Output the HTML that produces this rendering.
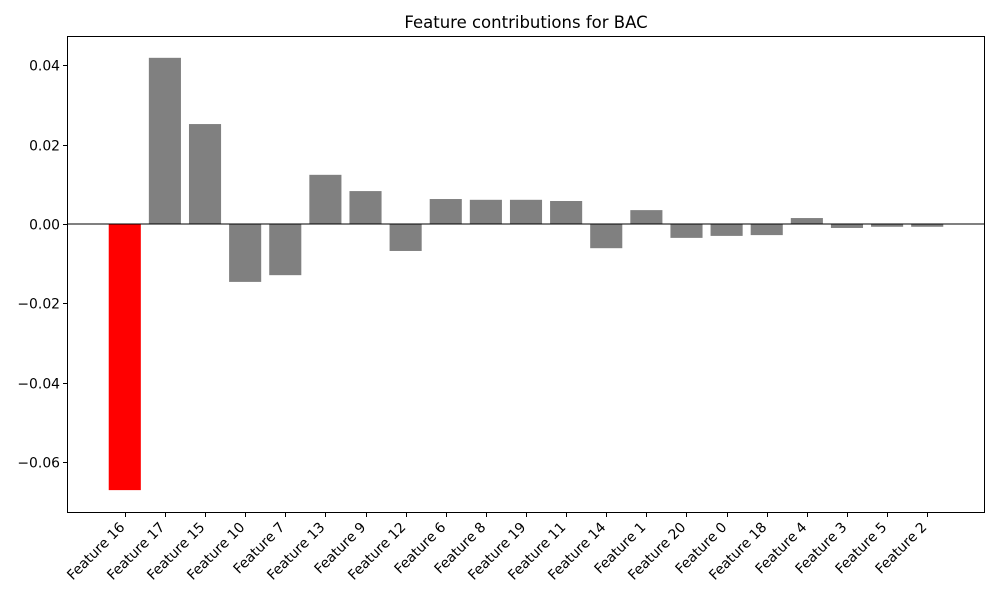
<!DOCTYPE html>
<html><head><meta charset="utf-8"><style>
body{margin:0;background:#fff;}
svg text{font-family:"DejaVu Sans","Liberation Sans",sans-serif;fill:#000;}
</style></head><body>
<svg id="chart" width="1000" height="600" xmlns="http://www.w3.org/2000/svg">
<text x="526" y="28" font-size="16.5" text-anchor="middle">Feature contributions for BAC</text>
<g id="bars"></g>
<g id="yaxis"></g>
<g id="xaxis"></g>
<rect x="67.5" y="36.5" width="917" height="476" fill="none" stroke="#000" stroke-width="1"/>
</svg>
<script>
const categories=["Feature 16","Feature 17","Feature 15","Feature 10","Feature 7","Feature 13","Feature 9","Feature 12","Feature 6","Feature 8","Feature 19","Feature 11","Feature 14","Feature 1","Feature 20","Feature 0","Feature 18","Feature 4","Feature 3","Feature 5","Feature 2"];
const values=[-0.0671,0.0419,0.0252,-0.0146,-0.0129,0.0124,0.0083,-0.0068,0.0063,0.0061,0.0061,0.0058,-0.0061,0.0035,-0.0035,-0.003,-0.0028,0.0015,-0.001,-0.0007,-0.0007];
const yTicks=[-0.06,-0.04,-0.02,0.00,0.02,0.04];
const yTickLabels=["−0.06","−0.04","−0.02","0.00","0.02","0.04"];
const NS="http://www.w3.org/2000/svg";
const L=67,R=985,T=36,B=513;
const xMin=-1.44,xMax=categories.length-1+1.44;
const x=i=>L+(i-xMin)/(xMax-xMin)*(R-L);
const y=v=>224-v*3966;
const bw=(R-L)/(xMax-xMin)*0.8;
const gb=document.getElementById('bars'),gy=document.getElementById('yaxis'),gx=document.getElementById('xaxis');
function mk(t,a){const e=document.createElementNS(NS,t);for(const k in a)e.setAttribute(k,a[k]);return e;}
values.forEach((v,i)=>{
  const r=mk('rect',{x:x(i)-bw/2,y:Math.min(y(v),y(0)),width:bw,height:Math.abs(y(v)-y(0)),fill:i===0?'#ff0000':'#808080'});
  
  
  gb.appendChild(r);
});
const zl=mk('line',{x1:L,x2:R,y1:y(0),y2:y(0),stroke:'#000','stroke-width':1});


gb.appendChild(zl);
yTicks.forEach((t,i)=>{
  const yy=Math.round(y(t))+0.5;
  const l=mk('line',{x1:L-4,x2:L,y1:yy,y2:yy,stroke:'#000'});
  
  
  gy.appendChild(l);
  const tx=mk('text',{x:L-7,y:yy+5,'font-size':13.9,'text-anchor':'end'});
  tx.textContent=yTickLabels[i];
  
  
  gy.appendChild(tx);
});
categories.forEach((c,i)=>{
  const xx=Math.round(x(i))+0.5;
  const l=mk('line',{x1:xx,x2:xx,y1:B,y2:B+4,stroke:'#000'});
  
  
  gx.appendChild(l);
  const tx=mk('text',{x:xx,y:B+15,'font-size':13.9,'text-anchor':'end',transform:`rotate(-45 ${xx} ${B+15})`});
  tx.textContent=c;
  
  
  gx.appendChild(tx);
});
</script>
</body></html>
